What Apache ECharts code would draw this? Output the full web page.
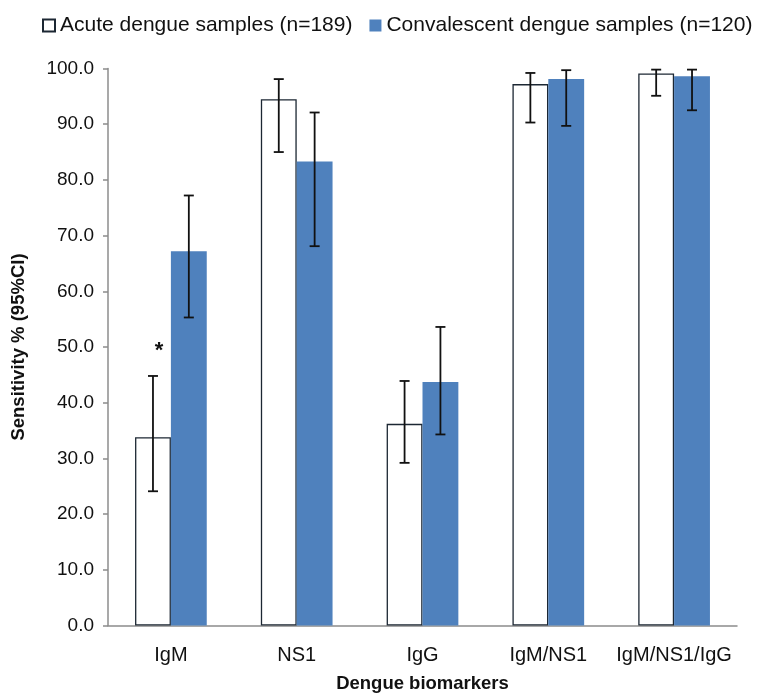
<!DOCTYPE html>
<html>
<head>
<meta charset="utf-8">
<script src="https://cdn.jsdelivr.net/npm/echarts@6/dist/echarts.min.js"></script>
<style>
html,body{margin:0;padding:0;background:#fff;}
#chart{width:767px;height:694px;}
</style>
</head>
<body>
<div id="chart"></div>
<script>
var categories = ['IgM', 'NS1', 'IgG', 'IgM/NS1', 'IgM/NS1/IgG'];
var seriesNames = ['Acute dengue samples (n=189)', 'Convalescent dengue samples (n=120)'];
var acuteValues = [33.8, 94.5, 36.2, 97.2, 99.1];
var acuteLow = [24.1, 85.0, 29.2, 90.3, 95.1];
var acuteHigh = [44.8, 98.1, 43.9, 99.2, 99.8];
var convValues = [67.2, 83.3, 43.7, 98.1, 98.6];
var convLow = [55.3, 68.1, 34.3, 89.7, 92.5];
var convHigh = [77.2, 92.1, 53.6, 99.7, 99.8];
var yTicks = [0, 10, 20, 30, 40, 50, 60, 70, 80, 90, 100];
var sigMarks = [{ category: 'IgM', value: 50, text: '*' }];

var FONT = '"Liberation Sans", Arial, Helvetica, sans-serif';
var CAT_GAP = 0.43;

function errData(low, high) {
  return categories.map(function (c, i) { return [i, low[i], high[i]]; });
}

function makeErrRender(side) {
  return function (params, api) {
    var band = api.size([1, 0])[0];
    var bw = band * (1 - CAT_GAP) / 2;
    var off = side * bw / 2;
    var pLow = api.coord([api.value(0), api.value(1)]);
    var pHigh = api.coord([api.value(0), api.value(2)]);
    var x = pLow[0] + off;
    var cap = 5;
    var style = { stroke: '#111', lineWidth: 1.8 };
    return {
      type: 'group',
      children: [
        { type: 'line', shape: { x1: x, y1: pLow[1], x2: x, y2: pHigh[1] }, style: style },
        { type: 'line', shape: { x1: x - cap, y1: pLow[1], x2: x + cap, y2: pLow[1] }, style: style },
        { type: 'line', shape: { x1: x - cap, y1: pHigh[1], x2: x + cap, y2: pHigh[1] }, style: style }
      ]
    };
  };
}

var chart = echarts.init(document.getElementById('chart'), null, { renderer: 'canvas' });
var option = {
  animation: false,
  backgroundColor: '#fff',
  legend: {
    top: 10,
    left: 37,
    itemWidth: 12,
    itemHeight: 12,
    itemGap: 17,
    icon: 'rect',
    textStyle: { fontFamily: FONT, fontSize: 21, color: '#111' },
    data: seriesNames
  },
  grid: { left: 108, right: 30, top: 68.5, bottom: 68.5, containLabel: false, outerBoundsMode: 'none' },
  xAxis: {
    type: 'category',
    data: categories,
    name: 'Dengue biomarkers',
    nameLocation: 'middle',
    nameGap: 49,
    nameTextStyle: { fontFamily: FONT, fontSize: 18.5, fontWeight: 'bold', color: '#111' },
    axisLine: { lineStyle: { color: '#8c8c8c', width: 1.5 } },
    axisTick: { show: false },
    axisLabel: { interval: 0, fontFamily: FONT, fontSize: 20, color: '#111', margin: 20, hideOverlap: false }
  },
  yAxis: {
    type: 'value',
    min: yTicks[0],
    max: yTicks[yTicks.length - 1],
    interval: yTicks[1] - yTicks[0],
    name: 'Sensitivity % (95%CI)',
    nameLocation: 'middle',
    nameGap: 80,
    nameTextStyle: { fontFamily: FONT, fontSize: 18.5, fontWeight: 'bold', color: '#111' },
    axisLine: { show: true, lineStyle: { color: '#8c8c8c', width: 1.5 } },
    axisTick: { show: true, inside: false, length: 5, lineStyle: { color: '#8c8c8c', width: 1.5 } },
    splitLine: { show: false },
    axisLabel: {
      fontFamily: FONT, fontSize: 19, color: '#111', margin: 14,
      formatter: function (v) { return v.toFixed(1); }
    }
  },
  series: [
    {
      name: seriesNames[0],
      type: 'bar',
      data: acuteValues,
      barGap: '0%',
      barCategoryGap: (CAT_GAP * 100) + '%',
      itemStyle: { color: '#ffffff', borderColor: '#1c2733', borderWidth: 1.3 },
      z: 2
    },
    {
      name: seriesNames[1],
      type: 'bar',
      data: convValues,
      barGap: '0%',
      barCategoryGap: (CAT_GAP * 100) + '%',
      itemStyle: { color: '#4f81bd' },
      z: 2
    },
    {
      name: 'acuteErr',
      type: 'custom',
      renderItem: makeErrRender(-1),
      data: errData(acuteLow, acuteHigh),
      encode: { x: 0, y: [1, 2] },
      z: 5,
      silent: true
    },
    {
      name: 'convErr',
      type: 'custom',
      renderItem: makeErrRender(1),
      data: errData(convLow, convHigh),
      encode: { x: 0, y: [1, 2] },
      z: 5,
      silent: true
    },
    {
      name: 'sig',
      type: 'custom',
      data: sigMarks.map(function (m) { return [categories.indexOf(m.category), m.value]; }),
      encode: { x: 0, y: 1 },
      z: 6,
      silent: true,
      renderItem: function (params, api) {
        var band = api.size([1, 0])[0];
        var bw = band * (1 - CAT_GAP) / 2;
        var p = api.coord([api.value(0), api.value(1)]);
        return {
          type: 'text',
          x: p[0] - bw / 2 + 6,
          y: p[1] + 4,
          style: {
            text: sigMarks[params.dataIndex].text,
            fontFamily: FONT, fontSize: 22, fontWeight: 'bold', fill: '#111',
            align: 'center', verticalAlign: 'middle'
          }
        };
      }
    }
  ]
};
chart.setOption(option);
</script>
</body>
</html>
